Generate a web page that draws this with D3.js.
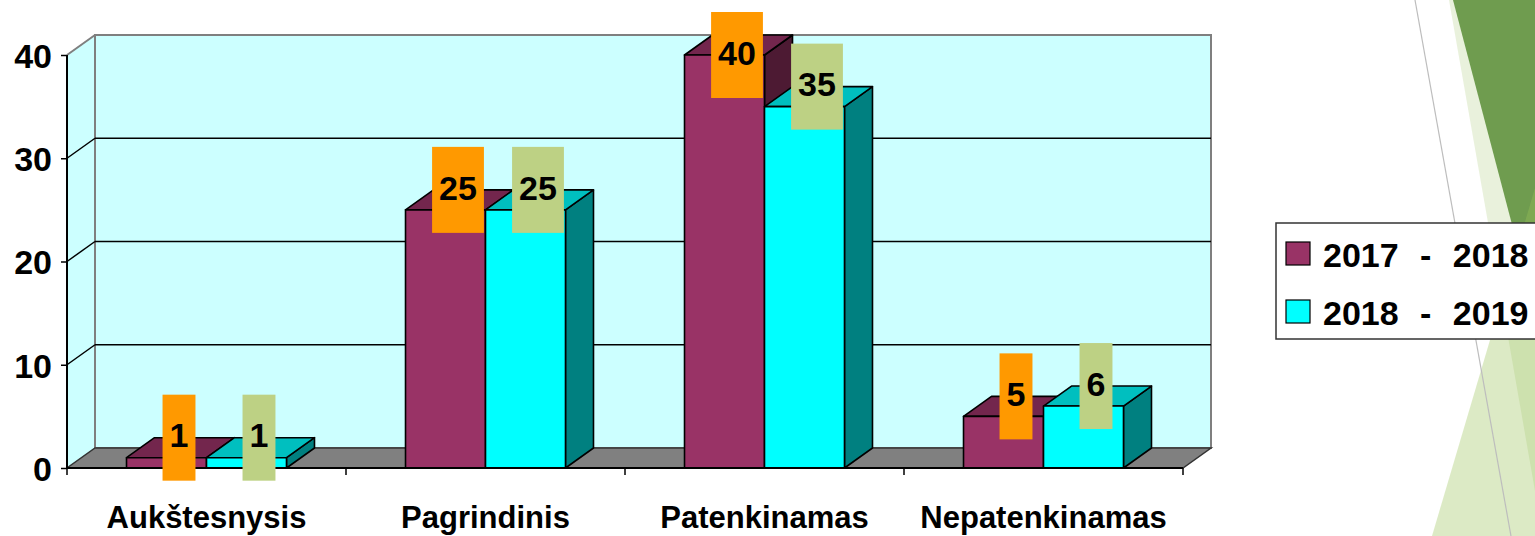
<!DOCTYPE html>
<html><head><meta charset="utf-8">
<script src="https://cdn.jsdelivr.net/npm/d3@7"></script>
<style>html,body{margin:0;padding:0;background:#fff;overflow:hidden}</style>
</head><body>
<svg id="c" width="1535" height="536"></svg>
<script>
const categories = ["Aukštesnysis", "Pagrindinis", "Patenkinamas", "Nepatenkinamas"];
const seriesNames = ["2017 - 2018", "2018 - 2019"];
const values2017 = [1, 25, 40, 5];
const values2018 = [1, 25, 35, 6];
const yTicks = [0, 10, 20, 30, 40];

const seriesValues = [values2017, values2018];
const frontColors = ["#993366", "#00ffff"];
const topColors = ["#73264d", "#00bfbf"];
const sideColors = ["#4d1a33", "#008080"];
const labelFills = ["#ff9900", "#bdd184"];

const FONT = "'Comic Sans MS','Liberation Sans',Arial,sans-serif";
const svg = d3.select("#c");

// ---- background slide decoration ----
const deco = svg.append("g");
deco.append("polygon").attr("points", "1449,0 1535,0 1535,491").attr("fill", "#b5cf8a").attr("fill-opacity", 0.3);
deco.append("polygon").attr("points", "1453,0 1535,0 1535,312").attr("fill", "#6f9c4f");
deco.append("polygon").attr("points", "1432,536 1535,188 1535,536").attr("fill", "#9cc25a").attr("fill-opacity", 0.35);
deco.append("line").attr("x1", 1415).attr("y1", 0).attr("x2", 1511).attr("y2", 536).attr("stroke", "#bdbdbd").attr("stroke-width", 1.2);

// ---- scales ----
const x0 = 67, x1 = 1183, dx = 28, dy = -20;
const x = d3.scaleBand().domain(categories).range([x0, x1]).padding(0);
const xs = d3.scaleBand().domain(seriesNames).range([0, x.bandwidth()]).paddingInner(0).paddingOuter(0.744);
const y = d3.scaleLinear().domain([0, 40]).range([468, 55]);
const yMax = 40;

// back wall
svg.append("rect").attr("x", x0 + dx).attr("y", y(yMax) + dy).attr("width", x1 - x0).attr("height", y(0) - y(yMax))
  .attr("fill", "#ccffff").attr("stroke", "#7f7f7f").attr("stroke-width", 2);
// left wall
svg.append("polygon").attr("points", [[x0, y(yMax)], [x0 + dx, y(yMax) + dy], [x0 + dx, y(0) + dy], [x0, y(0)]].map(p => p.join(",")).join(" "))
  .attr("fill", "#ccffff");
svg.append("line").attr("x1", x0).attr("y1", y(yMax)).attr("x2", x0 + dx).attr("y2", y(yMax) + dy).attr("stroke", "#7f7f7f").attr("stroke-width", 2);
svg.append("line").attr("x1", x0 + dx).attr("y1", y(yMax) + dy).attr("x2", x0 + dx).attr("y2", y(0) + dy).attr("stroke", "#7f7f7f").attr("stroke-width", 2);
// floor
svg.append("polygon").attr("points", [[x0, y(0)], [x1, y(0)], [x1 + dx, y(0) + dy], [x0 + dx, y(0) + dy]].map(p => p.join(",")).join(" "))
  .attr("fill", "#808080").attr("stroke", "#333").attr("stroke-width", 1.5);

// gridlines
yTicks.filter(t => t > 0 && t < yMax).forEach(t => {
  svg.append("line").attr("x1", x0 + dx).attr("x2", x1 + dx).attr("y1", y(t) + dy).attr("y2", y(t) + dy).attr("stroke", "#000").attr("stroke-width", 1.5);
  svg.append("line").attr("x1", x0).attr("x2", x0 + dx).attr("y1", y(t)).attr("y2", y(t) + dy).attr("stroke", "#000").attr("stroke-width", 1.5);
});

// bars
const bars = svg.append("g");
seriesNames.forEach((s, si) => {
  categories.forEach((c, ci) => {
    const v = seriesValues[si][ci];
    const bx = x(c) + xs(s), w = xs.bandwidth();
    const yt = y(v), yb = y(0);
    const g = bars.append("g").attr("stroke", "#000").attr("stroke-width", 1.6).attr("stroke-linejoin", "round");
    g.append("polygon").attr("points", [[bx + w, yt], [bx + w + dx, yt + dy], [bx + w + dx, yb + dy], [bx + w, yb]].map(p => p.join(",")).join(" ")).attr("fill", sideColors[si]);
    g.append("polygon").attr("points", [[bx, yt], [bx + w, yt], [bx + w + dx, yt + dy], [bx + dx, yt + dy]].map(p => p.join(",")).join(" ")).attr("fill", topColors[si]);
    g.append("rect").attr("x", bx).attr("y", yt).attr("width", w).attr("height", yb - yt).attr("fill", frontColors[si]);
  });
});

// axes
svg.append("line").attr("x1", x0).attr("x2", x1).attr("y1", y(0)).attr("y2", y(0)).attr("stroke", "#000").attr("stroke-width", 2);
svg.append("line").attr("x1", x0).attr("x2", x0).attr("y1", y(yMax)).attr("y2", y(0)).attr("stroke", "#000").attr("stroke-width", 2);
const yAxis = d3.axisLeft(y).tickValues(yTicks).tickSize(6).tickPadding(9).tickFormat(d3.format("d"));
const ya = svg.append("g").attr("transform", `translate(${x0},0)`).call(yAxis);
ya.select(".domain").remove();
ya.selectAll(".tick line").attr("stroke", "#000").attr("stroke-width", 1.5);
ya.selectAll(".tick text").attr("font-family", FONT).attr("font-weight", "bold").attr("font-size", 34).attr("fill", "#000").attr("dy", "0.36em");

const xa = svg.append("g").attr("transform", `translate(0,${y(0)})`)
  .call(d3.axisBottom(x).tickSize(0).tickPadding(0));
xa.select(".domain").remove();
xa.selectAll(".tick text").attr("font-family", FONT).attr("font-weight", "bold").attr("font-size", 31).attr("fill", "#000").attr("y", 60).attr("dy", 0);
// category boundary ticks
categories.concat([null]).forEach((c, i) => {
  const tx = i < categories.length ? x(c) : x1;
  svg.append("line").attr("x1", tx).attr("x2", tx).attr("y1", y(0)).attr("y2", y(0) + 7).attr("stroke", "#000").attr("stroke-width", 1.5);
});

// data labels
const labels = svg.append("g");
seriesNames.forEach((s, si) => {
  categories.forEach((c, ci) => {
    const v = seriesValues[si][ci];
    const cx = x(c) + xs(s) + xs.bandwidth() / 2 + 12.5;
    const h = 86;
    let cy = y(v) + dy;
    if (cy - h / 2 < 12) cy = 12 + h / 2;
    const t = labels.append("text").text(v).attr("font-family", FONT).attr("font-weight", "bold").attr("font-size", 34)
      .attr("text-anchor", "middle").attr("x", cx).attr("y", cy + 9.7).attr("fill", "#000");
    const tw = t.node().getComputedTextLength();
    const bw = tw + 14;
    labels.insert("rect", "text").attr("x", cx - bw / 2).attr("y", cy - h / 2).attr("width", bw).attr("height", h).attr("fill", labelFills[si]);
  });
});

// legend
const lg = svg.append("g");
lg.append("rect").attr("x", 1276).attr("y", 223).attr("width", 300).attr("height", 116).attr("fill", "#fff").attr("stroke", "#333").attr("stroke-width", 1.5);
seriesNames.forEach((s, si) => {
  const ly = 242 + si * 58;
  lg.append("rect").attr("x", 1286).attr("y", ly).attr("width", 24).attr("height", 23).attr("fill", frontColors[si]).attr("stroke", "#000").attr("stroke-width", 1.2);
  lg.append("text").text(s).attr("x", 1323).attr("y", ly + 25).attr("font-family", FONT).attr("font-weight", "bold")
    .attr("font-size", 34).attr("word-spacing", 12).attr("fill", "#000").attr("xml:space", "preserve");
});
</script>
</body></html>
